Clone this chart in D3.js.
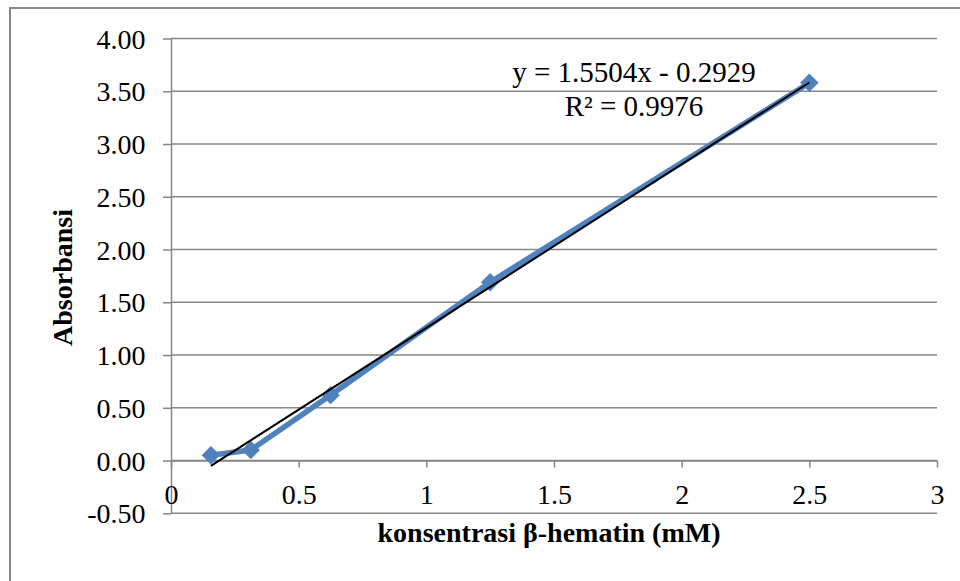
<html>

<head>
    <meta charset="utf-8">
    <style>
        body { margin: 0; background: #fff; }
        text {
            font-family: 'Liberation Serif', 'Times New Roman', serif;
            fill: #000;
        }
        .grid line { stroke: #868686; stroke-width: 1.5; }
        .axis path, .axis line { stroke: #868686; stroke-width: 1.5; }
    </style>
</head>

<body>
    <svg id="container" width="960" height="581"></svg>
</body>

<script src="https://cdn.jsdelivr.net/npm/d3@7"></script>
<script>
    // data
    const concentration = [0.15625, 0.3125, 0.625, 1.25, 2.5];
    const absorbance = [0.05, 0.10, 0.62, 1.69, 3.58];
    const yTicks = [-0.5, 0, 0.5, 1, 1.5, 2, 2.5, 3, 3.5, 4];
    const xTicks = [0, 0.5, 1, 1.5, 2, 2.5, 3];
    const trendSlope = 1.5504;
    const trendIntercept = -0.2929;
    const equationLabels = ["y = 1.5504x - 0.2929", "R\u00b2 = 0.9976"];

    let svg = d3.select("#container");

    // outer chart border (runs off the right and bottom edge)
    svg.append("rect")
        .attr("x", 10).attr("y", 8)
        .attr("width", 970).attr("height", 600)
        .attr("fill", "none")
        .attr("stroke", "#868686")
        .attr("stroke-width", 2);

    let xScale = d3.scaleLinear().domain([0, 3]).range([171, 937]);
    let yScale = d3.scaleLinear().domain([-0.5, 4]).range([513.3, 38.5]);

    // horizontal gridlines
    svg.append("g").attr("class", "grid")
        .selectAll("line")
        .data(yTicks)
        .join("line")
        .attr("x1", xScale(0)).attr("x2", xScale(3))
        .attr("y1", d => yScale(d)).attr("y2", d => yScale(d));

    // y axis, plain hyphen for the minus like the original
    let fmt = d3.format(".2f");
    let yAxis = svg.append("g").attr("class", "axis")
        .attr("transform", `translate(${xScale(0)},0)`)
        .call(d3.axisLeft(yScale)
            .tickValues(yTicks)
            .tickSize(8)
            .tickSizeOuter(0)
            .tickFormat(d => fmt(d).replace("\u2212", "-")));
    yAxis.selectAll("text")
        .attr("x", -25.5)
        .attr("dy", "0.34em")
        .attr("font-size", 28);

    // x axis sits at y = 0
    let xAxis = svg.append("g").attr("class", "axis")
        .attr("transform", `translate(0,${yScale(0)})`)
        .call(d3.axisBottom(xScale)
            .tickValues(xTicks)
            .tickSize(7)
            .tickSizeOuter(0)
            .tickFormat(d => d));
    xAxis.selectAll("text")
        .attr("y", 24)
        .attr("font-size", 28);
    svg.selectAll(".axis").attr("font-family", null).attr("font-size", null);

    // series line + diamond markers
    let points = concentration.map((c, i) => ({ x: c, y: absorbance[i] }));

    let valueLine = d3.line()
        .x(d => xScale(d.x))
        .y(d => yScale(d.y));

    svg.append("path")
        .datum(points)
        .attr("d", valueLine)
        .attr("fill", "none")
        .attr("stroke", "#4F81BD")
        .attr("stroke-width", 5.5)
        .attr("stroke-linejoin", "round");

    svg.append("g")
        .selectAll("path")
        .data(points)
        .join("path")
        .attr("d", d3.symbol(d3.symbolSquare, 170))
        .attr("transform", d => `translate(${xScale(d.x)},${yScale(d.y)}) rotate(45)`)
        .attr("fill", "#4F81BD");

    // linear trendline
    let xExtent = d3.extent(concentration);
    svg.append("path")
        .datum(xExtent.map(x => ({ x: x, y: trendSlope * x + trendIntercept })))
        .attr("d", valueLine)
        .attr("fill", "none")
        .attr("stroke", "#000")
        .attr("stroke-width", 2);

    // equation labels
    svg.append("g")
        .selectAll("text")
        .data(equationLabels)
        .join("text")
        .attr("x", 634)
        .attr("y", (d, i) => 81.5 + i * 34.5)
        .attr("text-anchor", "middle")
        .attr("font-size", 29)
        .text(d => d);

    // axis titles
    svg.append("text")
        .attr("x", 549).attr("y", 542)
        .attr("text-anchor", "middle")
        .attr("font-size", 28)
        .attr("font-weight", "bold")
        .text("konsentrasi \u03b2-hematin (mM)");

    svg.append("text")
        .attr("transform", "translate(72,277.5) rotate(-90)")
        .attr("text-anchor", "middle")
        .attr("font-size", 28)
        .attr("font-weight", "bold")
        .text("Absorbansi");
</script>

</html>
